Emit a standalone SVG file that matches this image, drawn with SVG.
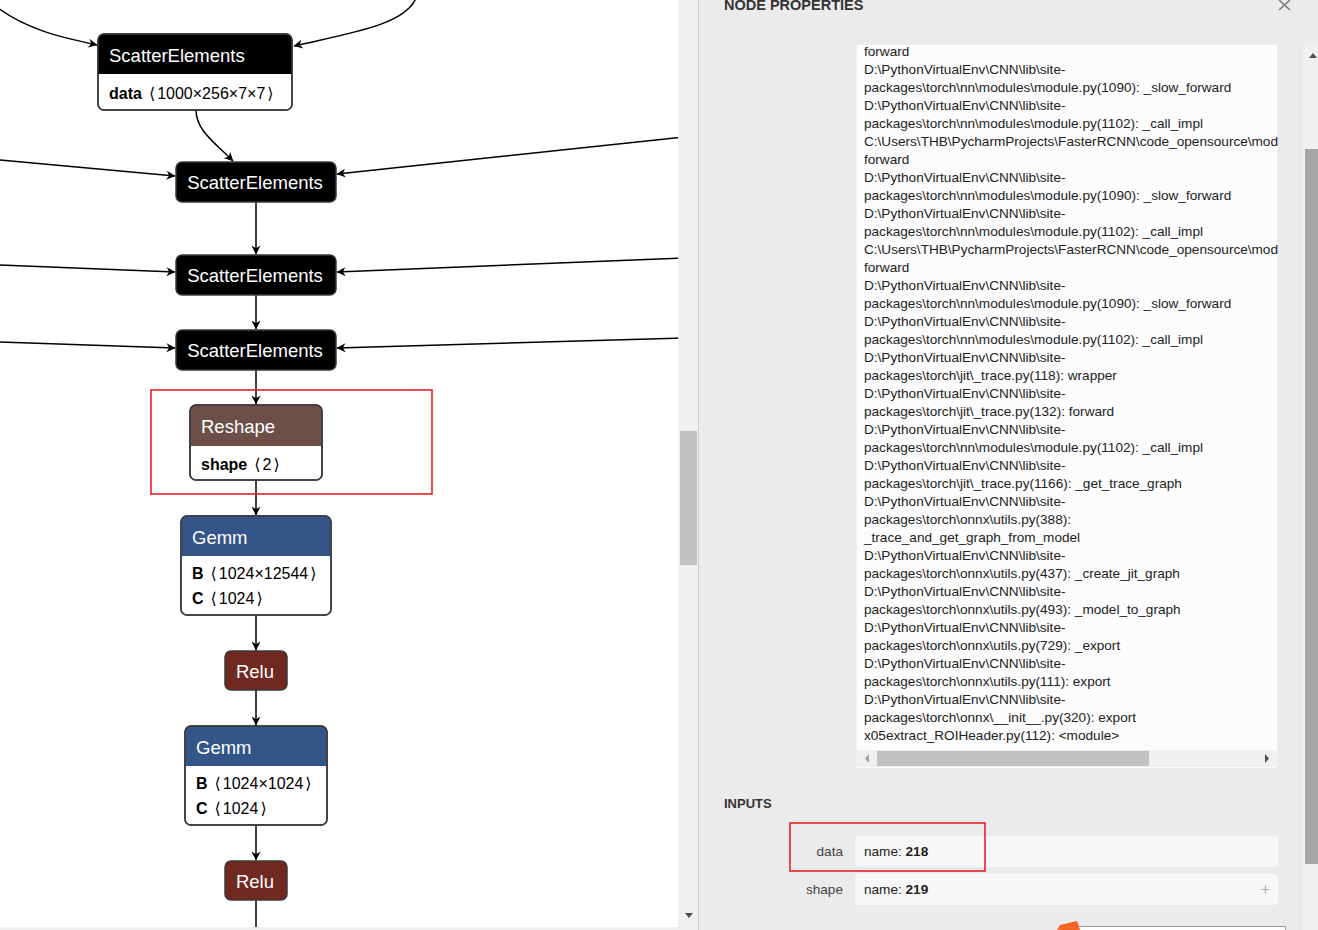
<svg xmlns="http://www.w3.org/2000/svg" width="1318" height="930" viewBox="0 0 1318 930">
<style>
.title{font-family:"Liberation Sans",Arial,sans-serif;font-size:18.5px;fill:#fff}
.attr{font-family:"Liberation Sans","DejaVu Sans",sans-serif;font-size:16px;fill:#000}
.attr .k{font-weight:bold}
.attr .br{font-family:"DejaVu Sans",sans-serif}
.box{fill:#fff;stroke:#3a3a3a;stroke-width:1.5}
.edge{fill:none;stroke:#000;stroke-width:1.5;marker-end:url(#arrow)}
.ptext{font-family:"Liberation Sans",Arial,sans-serif;font-size:13.6px;fill:#222}
.hdr{font-family:"Liberation Sans",Arial,sans-serif;font-weight:bold;fill:#333}
.lbl{font-family:"Liberation Sans",Arial,sans-serif;font-size:13.6px;fill:#444;text-anchor:end}
</style>
<defs>
<marker id="arrow" viewBox="0 0 10 10" refX="9.5" refY="5" markerUnits="userSpaceOnUse" markerWidth="10" markerHeight="9" orient="auto">
<path d="M0,0 L10,5 L0,10 L3,5 Z" fill="#000"/>
</marker>
<clipPath id="txtclip"><rect x="856" y="44" width="422" height="705"/></clipPath>
</defs>
<rect x="0" y="0" width="1318" height="930" fill="#fff"/>

<g id="connectors">
<path class="edge" d="M -2 8 C 25 28, 55 36, 97 45"/>
<path class="edge" d="M 416 -2 C 405 25, 350 33, 294 46"/>
<path class="edge" d="M 196 110 C 196 130, 214 142, 233 161"/>
<path class="edge" d="M 0 160 L 175 176"/>
<path class="edge" d="M 684 137 L 337 174"/>
<path class="edge" d="M 256 202 L 256 254"/>
<path class="edge" d="M 0 265 L 175 272"/>
<path class="edge" d="M 684 258 L 337 272"/>
<path class="edge" d="M 256 295 L 256 329"/>
<path class="edge" d="M 0 342 L 175 348"/>
<path class="edge" d="M 684 338 L 337 348"/>
<path class="edge" d="M 256 370 L 256 404"/>
<path class="edge" d="M 256 480 L 256 515"/>
<path class="edge" d="M 256 615 L 256 650"/>
<path class="edge" d="M 256 690 L 256 725"/>
<path class="edge" d="M 256 825 L 256 860"/>
<path fill="none" stroke="#000" stroke-width="1.5" d="M 256 900 L 256 930"/>
</g>

<g id="node-scatter1">
<rect class="box" x="98" y="34" width="194" height="76" rx="6"/>
<path d="M 98 74 V 40 A 6 6 0 0 1 104 34 H 286 A 6 6 0 0 1 292 40 V 74 Z" fill="#000"/>
<rect x="98" y="34" width="194" height="76" rx="6" fill="none" stroke="#3a3a3a" stroke-width="1.5"/>
<text class="title" x="109" y="62">ScatterElements</text>
<text class="attr" x="109" y="99"><tspan class="k">data</tspan><tspan class="br" dx="7">⟨</tspan><tspan dx="2">1000×256×7×7</tspan><tspan class="br" dx="2">⟩</tspan></text>
</g>

<g id="node-scatter2">
<rect x="176" y="162" width="160" height="40" rx="6" fill="#000" stroke="#3a3a3a" stroke-width="1.5"/>
<text class="title" x="255" y="189" text-anchor="middle">ScatterElements</text>
</g>
<g id="node-scatter3">
<rect x="176" y="255" width="160" height="40" rx="6" fill="#000" stroke="#3a3a3a" stroke-width="1.5"/>
<text class="title" x="255" y="282" text-anchor="middle">ScatterElements</text>
</g>
<g id="node-scatter4">
<rect x="176" y="330" width="160" height="40" rx="6" fill="#000" stroke="#3a3a3a" stroke-width="1.5"/>
<text class="title" x="255" y="357" text-anchor="middle">ScatterElements</text>
</g>

<g id="node-reshape">
<rect class="box" x="190" y="405" width="132" height="75" rx="6"/>
<path d="M 190 446 V 411 A 6 6 0 0 1 196 405 H 316 A 6 6 0 0 1 322 411 V 446 Z" fill="#6c4f47"/>
<rect x="190" y="405" width="132" height="75" rx="6" fill="none" stroke="#3a3a3a" stroke-width="1.5"/>
<text class="title" x="201" y="433">Reshape</text>
<text class="attr" x="201" y="470"><tspan class="k">shape</tspan><tspan class="br" dx="7">⟨</tspan><tspan dx="2">2</tspan><tspan class="br" dx="2">⟩</tspan></text>
</g>
<rect id="highlight-reshape" x="151" y="390" width="281" height="104" fill="none" stroke="#e8202a" stroke-width="1.6"/>

<g id="node-gemm1">
<rect class="box" x="181" y="516" width="150" height="99" rx="6"/>
<path d="M 181 556 V 522 A 6 6 0 0 1 187 516 H 325 A 6 6 0 0 1 331 522 V 556 Z" fill="#335588"/>
<rect x="181" y="516" width="150" height="99" rx="6" fill="none" stroke="#3a3a3a" stroke-width="1.5"/>
<text class="title" x="192" y="544">Gemm</text>
<text class="attr" x="192" y="579"><tspan class="k">B</tspan><tspan class="br" dx="7">⟨</tspan><tspan dx="2">1024×12544</tspan><tspan class="br" dx="2">⟩</tspan></text>
<text class="attr" x="192" y="604"><tspan class="k">C</tspan><tspan class="br" dx="7">⟨</tspan><tspan dx="2">1024</tspan><tspan class="br" dx="2">⟩</tspan></text>
</g>

<g id="node-relu1">
<rect x="225" y="651" width="62" height="39" rx="6" fill="#702921" stroke="#3a3a3a" stroke-width="1.5"/>
<text class="title" x="255" y="678" text-anchor="middle">Relu</text>
</g>

<g id="node-gemm2">
<rect class="box" x="185" y="726" width="142" height="99" rx="6"/>
<path d="M 185 766 V 732 A 6 6 0 0 1 191 726 H 321 A 6 6 0 0 1 327 732 V 766 Z" fill="#335588"/>
<rect x="185" y="726" width="142" height="99" rx="6" fill="none" stroke="#3a3a3a" stroke-width="1.5"/>
<text class="title" x="196" y="754">Gemm</text>
<text class="attr" x="196" y="789"><tspan class="k">B</tspan><tspan class="br" dx="7">⟨</tspan><tspan dx="2">1024×1024</tspan><tspan class="br" dx="2">⟩</tspan></text>
<text class="attr" x="196" y="814"><tspan class="k">C</tspan><tspan class="br" dx="7">⟨</tspan><tspan dx="2">1024</tspan><tspan class="br" dx="2">⟩</tspan></text>
</g>

<g id="node-relu2">
<rect x="225" y="861" width="62" height="39" rx="6" fill="#702921" stroke="#3a3a3a" stroke-width="1.5"/>
<text class="title" x="255" y="888" text-anchor="middle">Relu</text>
</g>

<!-- left scrollbar -->
<rect x="678" y="0" width="21" height="930" fill="#f0f0f0"/>
<rect x="680" y="431" width="17" height="134" fill="#c1c1c1"/>
<polygon points="685,913 693,913 689,918" fill="#505050"/>
<rect x="0" y="927" width="699" height="3" fill="#f0f0f0"/>
<line x1="698.5" y1="0" x2="698.5" y2="930" stroke="#cdcdcd" stroke-width="1"/>

<!-- properties panel -->
<rect x="699" y="0" width="619" height="930" fill="#ebebeb"/>
<text class="hdr" x="724" y="10" font-size="14.5">NODE PROPERTIES</text>
<path d="M 1279 0 L 1290 10 M 1290 0 L 1279 10" stroke="#777" stroke-width="1.5" fill="none"/>

<rect x="856" y="44" width="422" height="725" rx="3" fill="#fcfcfc" stroke="#e4e4e4" stroke-width="1"/>
<g clip-path="url(#txtclip)">
<text class="ptext" x="864" y="56">
<tspan x="864" y="56">forward</tspan>
<tspan x="864" dy="18">D:\PythonVirtualEnv\CNN\lib\site-</tspan>
<tspan x="864" dy="18">packages\torch\nn\modules\module.py(1090): _slow_forward</tspan>
<tspan x="864" dy="18">D:\PythonVirtualEnv\CNN\lib\site-</tspan>
<tspan x="864" dy="18">packages\torch\nn\modules\module.py(1102): _call_impl</tspan>
<tspan x="864" dy="18">C:\Users\THB\PycharmProjects\FasterRCNN\code_opensource\model</tspan>
<tspan x="864" dy="18">forward</tspan>
<tspan x="864" dy="18">D:\PythonVirtualEnv\CNN\lib\site-</tspan>
<tspan x="864" dy="18">packages\torch\nn\modules\module.py(1090): _slow_forward</tspan>
<tspan x="864" dy="18">D:\PythonVirtualEnv\CNN\lib\site-</tspan>
<tspan x="864" dy="18">packages\torch\nn\modules\module.py(1102): _call_impl</tspan>
<tspan x="864" dy="18">C:\Users\THB\PycharmProjects\FasterRCNN\code_opensource\model</tspan>
<tspan x="864" dy="18">forward</tspan>
<tspan x="864" dy="18">D:\PythonVirtualEnv\CNN\lib\site-</tspan>
<tspan x="864" dy="18">packages\torch\nn\modules\module.py(1090): _slow_forward</tspan>
<tspan x="864" dy="18">D:\PythonVirtualEnv\CNN\lib\site-</tspan>
<tspan x="864" dy="18">packages\torch\nn\modules\module.py(1102): _call_impl</tspan>
<tspan x="864" dy="18">D:\PythonVirtualEnv\CNN\lib\site-</tspan>
<tspan x="864" dy="18">packages\torch\jit\_trace.py(118): wrapper</tspan>
<tspan x="864" dy="18">D:\PythonVirtualEnv\CNN\lib\site-</tspan>
<tspan x="864" dy="18">packages\torch\jit\_trace.py(132): forward</tspan>
<tspan x="864" dy="18">D:\PythonVirtualEnv\CNN\lib\site-</tspan>
<tspan x="864" dy="18">packages\torch\nn\modules\module.py(1102): _call_impl</tspan>
<tspan x="864" dy="18">D:\PythonVirtualEnv\CNN\lib\site-</tspan>
<tspan x="864" dy="18">packages\torch\jit\_trace.py(1166): _get_trace_graph</tspan>
<tspan x="864" dy="18">D:\PythonVirtualEnv\CNN\lib\site-</tspan>
<tspan x="864" dy="18">packages\torch\onnx\utils.py(388):</tspan>
<tspan x="864" dy="18">_trace_and_get_graph_from_model</tspan>
<tspan x="864" dy="18">D:\PythonVirtualEnv\CNN\lib\site-</tspan>
<tspan x="864" dy="18">packages\torch\onnx\utils.py(437): _create_jit_graph</tspan>
<tspan x="864" dy="18">D:\PythonVirtualEnv\CNN\lib\site-</tspan>
<tspan x="864" dy="18">packages\torch\onnx\utils.py(493): _model_to_graph</tspan>
<tspan x="864" dy="18">D:\PythonVirtualEnv\CNN\lib\site-</tspan>
<tspan x="864" dy="18">packages\torch\onnx\utils.py(729): _export</tspan>
<tspan x="864" dy="18">D:\PythonVirtualEnv\CNN\lib\site-</tspan>
<tspan x="864" dy="18">packages\torch\onnx\utils.py(111): export</tspan>
<tspan x="864" dy="18">D:\PythonVirtualEnv\CNN\lib\site-</tspan>
<tspan x="864" dy="18">packages\torch\onnx\__init__.py(320): export</tspan>
<tspan x="864" dy="18">x05extract_ROIHeader.py(112): &lt;module&gt;</tspan>
</text>
</g>
<rect x="857" y="750" width="420" height="17" fill="#f0f0f0"/>
<rect x="877" y="751" width="272" height="15" fill="#c1c1c1"/>
<polygon points="869,754 869,763 865,758.5" fill="#a3a3a3"/>
<polygon points="1265,754 1265,763 1269,758.5" fill="#505050"/>

<text class="hdr" x="724" y="808" font-size="13">INPUTS</text>
<rect x="855" y="836" width="423" height="31" rx="4" fill="#f7f7f7"/>
<text class="lbl" x="843" y="856">data</text>
<text class="ptext" x="864" y="856">name: <tspan font-weight="bold">218</tspan></text>
<rect x="855" y="874" width="423" height="31" rx="4" fill="#f7f7f7"/>
<text class="lbl" x="843" y="894">shape</text>
<text class="ptext" x="864" y="894">name: <tspan font-weight="bold">219</tspan></text>
<path d="M 1261.5 889.5 H 1269.5 M 1265.5 885.5 V 893.5" stroke="#aab" stroke-width="1.2" fill="none"/>
<rect x="790" y="823" width="195" height="48" fill="none" stroke="#e8202a" stroke-width="1.6"/>

<rect x="1078.5" y="926.5" width="207" height="10" fill="#fff" stroke="#9a9a9a" stroke-width="1"/>
<polygon points="1057,930 1060,925 1077,921 1080,930" fill="#f26522"/>

<!-- right scrollbar -->
<rect x="1303" y="43" width="15" height="887" fill="#f0f0f0"/>
<polygon points="1309,58 1317,58 1313,53" fill="#505050"/>
<rect x="1305" y="149" width="13" height="715" fill="#a6a6a6"/>
</svg>
